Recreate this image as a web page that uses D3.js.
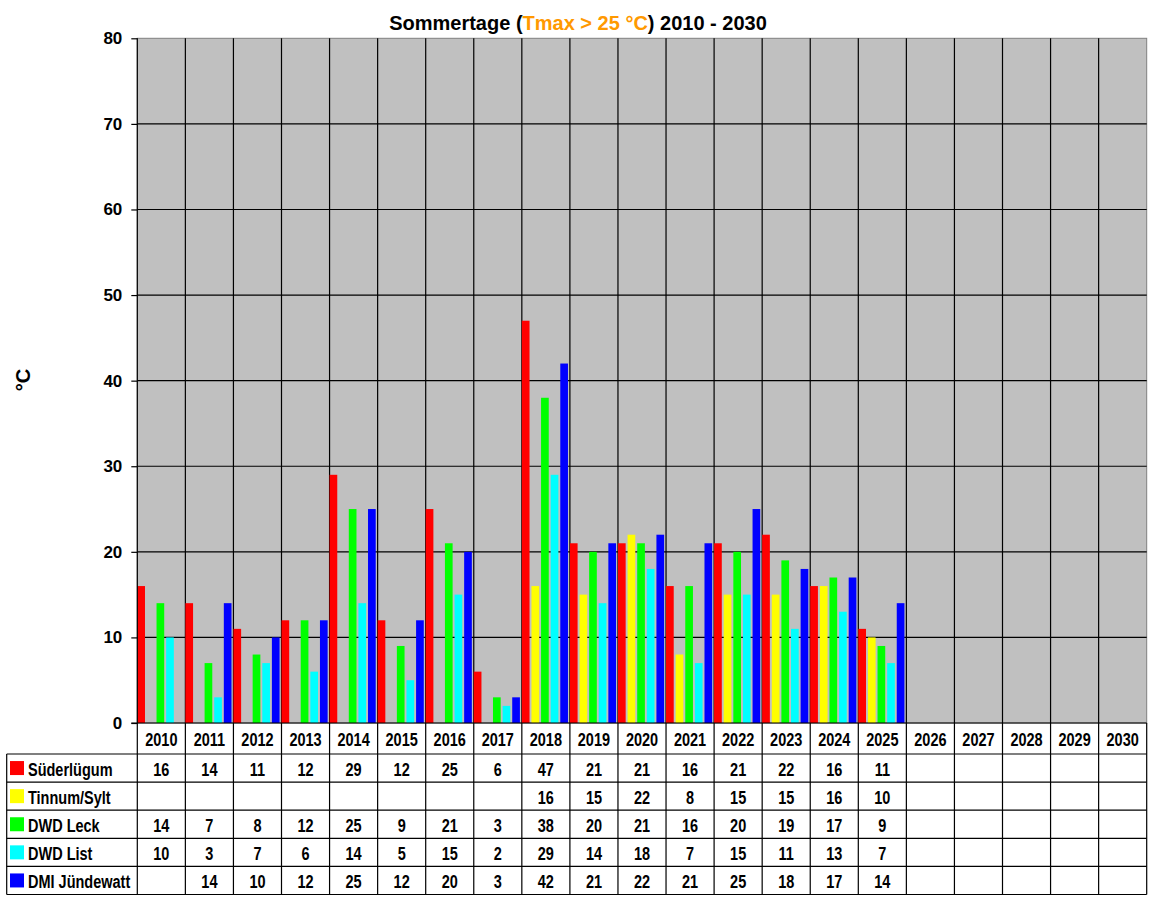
<!DOCTYPE html>
<html>
<head>
<meta charset="utf-8">
<script src="https://cdn.jsdelivr.net/npm/d3@7"></script>
<style>
  body { margin: 0; background: #fff; }
  text { font-family: Arial, "Liberation Sans", sans-serif; font-weight: bold; }
</style>
</head>
<body>
<div id="chart-area"></div>
<script>
// data
const years = ["2010","2011","2012","2013","2014","2015","2016","2017","2018","2019",
               "2020","2021","2022","2023","2024","2025","2026","2027","2028","2029","2030"];
const stations = ["Süderlügum","Tinnum/Sylt","DWD Leck","DWD List","DMI Jündewatt"];
const colors = ["#ff0000","#ffff00","#00ff00","#00ffff","#0000ff"];
const suederluegum = [16,14,11,12,29,12,25,6,47,21,21,16,21,22,16,11];
const tinnum =       [null,null,null,null,null,null,null,null,16,15,22,8,15,15,16,10];
const dwdLeck =      [14,7,8,12,25,9,21,3,38,20,21,16,20,19,17,9];
const dwdList =      [10,3,7,6,14,5,15,2,29,14,18,7,15,11,13,7];
const dmiJuendewatt = [null,14,10,12,25,12,20,3,42,21,22,21,25,18,17,14];
const yTicks = [0,10,20,30,40,50,60,70,80];

const seriesValues = [suederluegum, tinnum, dwdLeck, dwdList, dmiJuendewatt];

const W = 1152, H = 900;
const plotLeft = 137.3, plotRight = 1146.7, plotTop = 38.3, plotBottom = 723;
const headerBottom = 754, rowH = 28.1, tableLeft = 6.7;
const tableBottom = headerBottom + rowH * 5;
const stretch = 1.28; // table text is drawn a little taller than wide

const svg = d3.select("#chart-area").append("svg")
  .attr("width", W).attr("height", H);

const x = d3.scaleBand().domain(years).range([plotLeft, plotRight]).padding(0);
const sub = d3.scaleBand().domain(stations).range([0, x.bandwidth()])
  .paddingInner(0.2).paddingOuter(0.1).align(0);
const y = d3.scaleLinear().domain([0, 80]).range([plotBottom, plotTop]);

// title
const title = svg.append("text")
  .attr("x", 578).attr("y", 29.5)
  .attr("text-anchor", "middle")
  .style("font-size", "20px");
title.append("tspan").attr("fill", "#000").text("Sommertage (");
title.append("tspan").attr("fill", "#ff9900").text("Tmax > 25 °C");
title.append("tspan").attr("fill", "#000").text(") 2010 - 2030");

// plot area
svg.append("rect")
  .attr("x", plotLeft).attr("y", plotTop)
  .attr("width", plotRight - plotLeft).attr("height", plotBottom - plotTop)
  .attr("fill", "#c0c0c0").attr("stroke", "#808080").attr("stroke-width", 1);

// horizontal grid
svg.append("g").selectAll("line")
  .data(yTicks.filter(d => d > 0 && d < 80))
  .join("line")
  .attr("x1", plotLeft).attr("x2", plotRight)
  .attr("y1", d => y(d)).attr("y2", d => y(d))
  .attr("stroke", "#000").attr("stroke-width", 1.2);

// vertical grid (category boundaries), running through the table
svg.append("g").selectAll("line")
  .data(years.slice(1))
  .join("line")
  .attr("x1", d => x(d)).attr("x2", d => x(d))
  .attr("y1", plotTop).attr("y2", tableBottom)
  .attr("stroke", "#000").attr("stroke-width", 1.2);

// bars
const barData = [];
stations.forEach((s, i) => {
  seriesValues[i].forEach((v, j) => {
    if (v != null) barData.push({ station: s, year: years[j], value: v, color: colors[i] });
  });
});
svg.append("g").selectAll("rect")
  .data(barData)
  .join("rect")
  .attr("x", d => x(d.year) + sub(d.station))
  .attr("y", d => y(d.value))
  .attr("width", sub.bandwidth())
  .attr("height", d => plotBottom - y(d.value))
  .attr("fill", d => d.color);

// y axis
const yAxis = d3.axisLeft(y).tickValues(yTicks).tickSize(6).tickPadding(9);
const yAxisGroup = svg.append("g")
  .attr("transform", "translate(" + plotLeft + ",0)")
  .call(yAxis);
yAxisGroup.select(".domain").remove();
yAxisGroup.selectAll(".tick line").attr("stroke", "#000").attr("stroke-width", 1.2);
yAxisGroup.selectAll(".tick text")
  .style("font-size", "17px").style("font-family", "Arial, 'Liberation Sans', sans-serif")
  .style("font-weight", "bold").attr("fill", "#000");

// axis lines
svg.append("line").attr("x1", plotLeft).attr("x2", plotLeft).attr("y1", plotTop).attr("y2", tableBottom)
  .attr("stroke", "#000").attr("stroke-width", 1.2);
svg.append("line").attr("x1", plotLeft - 6).attr("x2", plotRight).attr("y1", plotBottom).attr("y2", plotBottom)
  .attr("stroke", "#000").attr("stroke-width", 1.2);
svg.append("line").attr("x1", plotRight).attr("x2", plotRight).attr("y1", plotBottom).attr("y2", tableBottom)
  .attr("stroke", "#000").attr("stroke-width", 1.2);

// y label
svg.append("text")
  .attr("transform", "translate(30,380) rotate(-90)")
  .attr("text-anchor", "middle")
  .style("font-size", "20px")
  .text("°C");

// data table
const table = svg.append("g");
table.selectAll("text.year")
  .data(years)
  .join("text")
  .attr("class", "year")
  .attr("transform", d => "translate(" + (x(d) + x.bandwidth() / 2) + ",745.5) scale(1," + stretch + ")")
  .attr("text-anchor", "middle")
  .style("font-size", "14.5px")
  .text(d => d);

// row lines
table.selectAll("line.row")
  .data(d3.range(6))
  .join("line")
  .attr("class", "row")
  .attr("x1", tableLeft).attr("x2", plotRight)
  .attr("y1", i => headerBottom + i * rowH).attr("y2", i => headerBottom + i * rowH)
  .attr("stroke", "#000").attr("stroke-width", 1.2);
table.append("line")
  .attr("x1", tableLeft).attr("x2", tableLeft)
  .attr("y1", headerBottom).attr("y2", tableBottom)
  .attr("stroke", "#000").attr("stroke-width", 1.2);

stations.forEach((s, i) => {
  const cy = headerBottom + i * rowH + rowH / 2;
  table.append("rect")
    .attr("x", 10).attr("y", cy - 7)
    .attr("width", 14).attr("height", 14)
    .attr("fill", colors[i]);
  table.append("text")
    .attr("transform", "translate(28," + (cy + 7.5) + ") scale(1," + stretch + ")")
    .style("font-size", "14.5px")
    .text(s);
  table.selectAll(null)
    .data(seriesValues[i].map((v, j) => ({ year: years[j], value: v })).filter(d => d.value != null))
    .join("text")
    .attr("transform", d => "translate(" + (x(d.year) + x.bandwidth() / 2) + "," + (cy + 7.5) + ") scale(1," + stretch + ")")
    .attr("text-anchor", "middle")
    .style("font-size", "14.5px")
    .text(d => d.value);
});
</script>
</body>
</html>
